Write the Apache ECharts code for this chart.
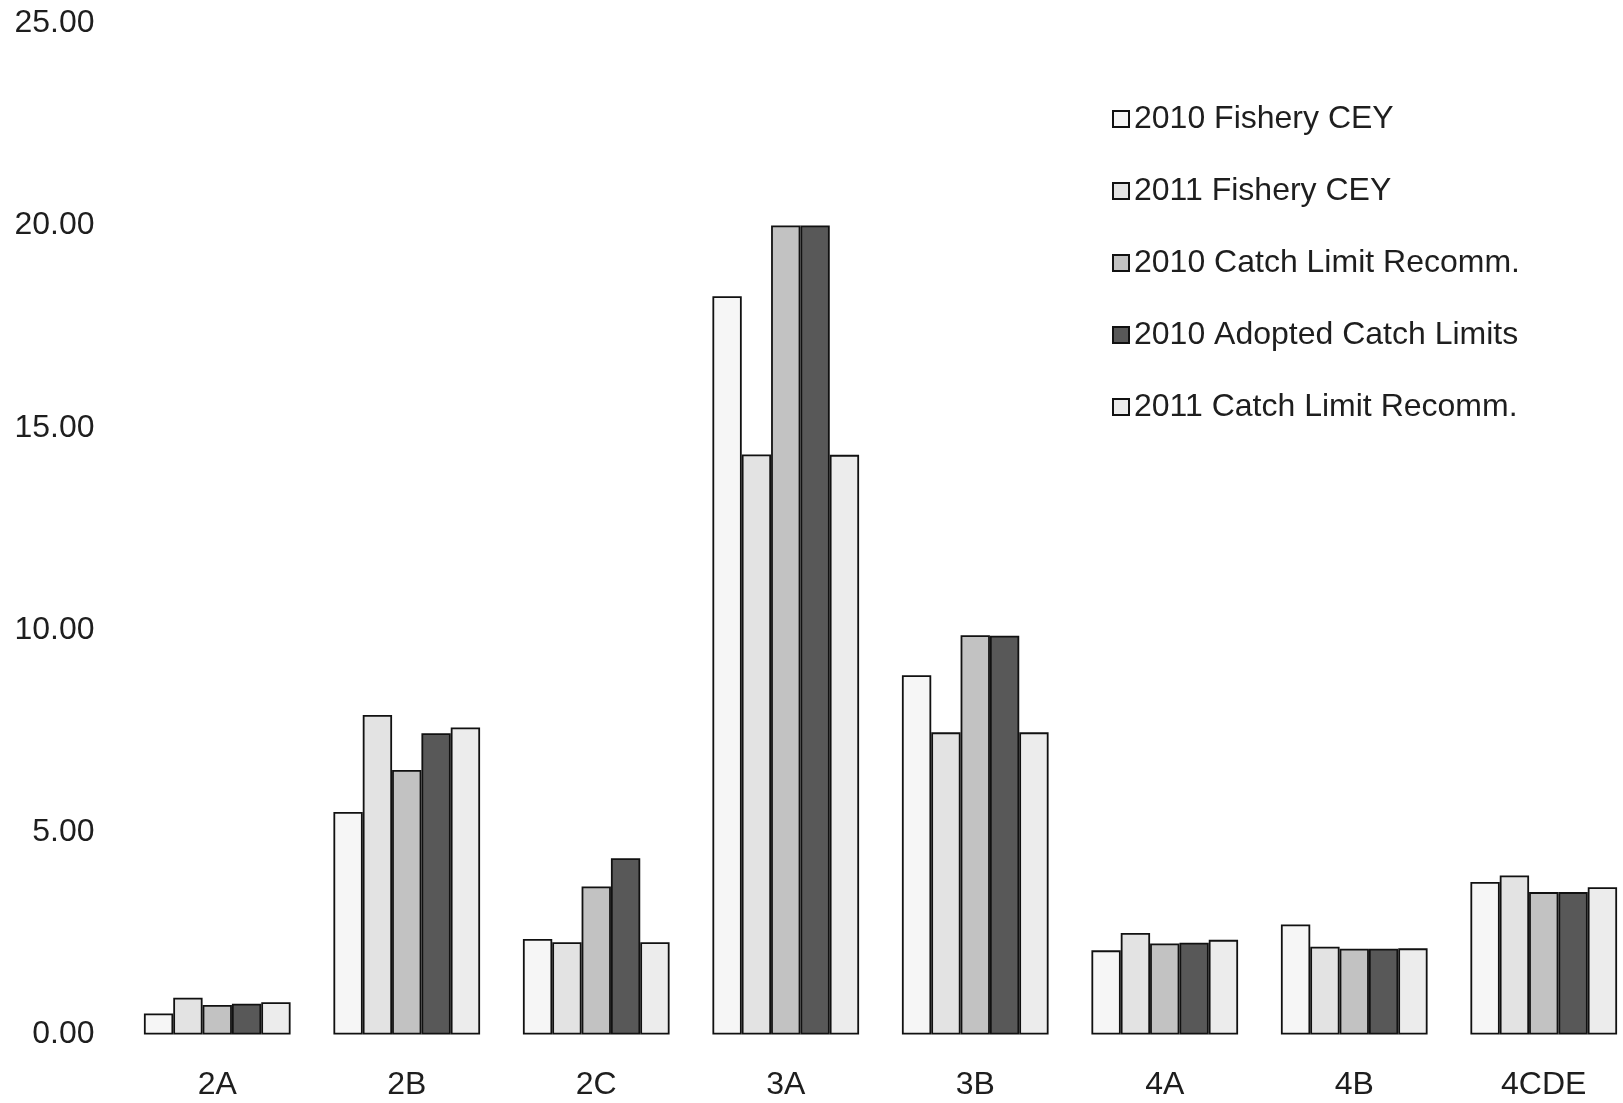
<!DOCTYPE html>
<html>
<head>
<meta charset="utf-8">
<script src="https://cdn.jsdelivr.net/npm/echarts@6/dist/echarts.min.js"></script>
<style>
html,body{margin:0;padding:0;background:#fff;overflow:hidden;}
#chart{width:1640px;height:1103px;}
</style>
</head>
<body>
<div id="chart"></div>
<script>
const categories = ['2A','2B','2C','3A','3B','4A','4B','4CDE'];
const seriesNames = ['2010 Fishery CEY','2011 Fishery CEY','2010 Catch Limit Recomm.','2010 Adopted Catch Limits','2011 Catch Limit Recomm.'];
const fishery2010 = [0.52, 5.50, 2.36, 18.25, 8.88, 2.08, 2.72, 3.77];
const fishery2011 = [0.91, 7.90, 2.28, 14.34, 7.47, 2.51, 2.17, 3.93];
const recomm2010  = [0.73, 6.54, 3.66, 20.00, 9.87, 2.25, 2.12, 3.52];
const adopted2010 = [0.76, 7.45, 4.36, 20.00, 9.86, 2.27, 2.12, 3.52];
const recomm2011  = [0.80, 7.59, 2.28, 14.33, 7.47, 2.34, 2.13, 3.64];
const yTicks = [0, 5, 10, 15, 20, 25];

const colors = ['#f6f6f6','#e3e3e3','#c2c2c2','#585858','#ececec'];
const values = [fishery2010, fishery2011, recomm2010, adopted2010, recomm2011];

const chart = echarts.init(document.getElementById('chart'));
chart.setOption({
  backgroundColor: '#ffffff',
  animation: false,
  textStyle: { fontFamily: 'Liberation Sans, Arial, sans-serif' },
  grid: { left: 122.5, width: 1516, top: 23.25, height: 1011.25, containLabel: false },
  legend: {
    orient: 'vertical',
    left: 1107,
    top: 98,
    itemWidth: 16,
    itemHeight: 16,
    itemGap: 40,
    icon: 'rect',
    textStyle: { fontSize: 32, color: '#1e1e1e', lineHeight: 32 },
    data: seriesNames
  },
  xAxis: {
    type: 'category',
    data: categories,
    axisLine: { show: false },
    axisTick: { show: false },
    axisLabel: { fontSize: 32, color: '#1e1e1e', margin: 35 }
  },
  yAxis: {
    type: 'value',
    min: yTicks[0],
    max: yTicks[yTicks.length - 1],
    interval: 5,
    axisLine: { show: false },
    axisTick: { show: false },
    splitLine: { show: false },
    axisLabel: { fontSize: 32, color: '#1e1e1e', margin: 28, formatter: v => v.toFixed(2) }
  },
  series: seriesNames.map((name, i) => ({
    name: name,
    type: 'bar',
    data: values[i],
    barGap: '0%',
    barCategoryGap: '22.6%',
    itemStyle: { color: colors[i], borderColor: '#111', borderWidth: 1.8 }
  }))
});
</script>
</body>
</html>
